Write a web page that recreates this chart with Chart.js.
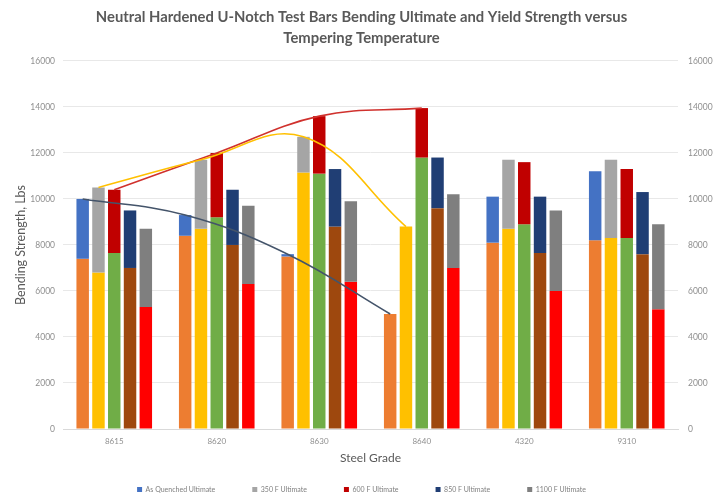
<!DOCTYPE html>
<html>
<head>
<meta charset="utf-8">
<script src="https://cdn.jsdelivr.net/npm/chart.js@4.4.1/dist/chart.umd.min.js"></script>
<style>
  html, body { margin: 0; padding: 0; background: #ffffff; }
  #wrap { width: 723px; height: 496px; }
</style>
</head>
<body>
<div id="wrap"><canvas id="c" width="723" height="496"></canvas></div>
<script>
// Steel grades along the x axis
const grades = ['8615', '8620', '8630', '8640', '4320', '9310'];

// Yield (lower segment) and ultimate (top of bar) bending strength, lbs
const yieldAQ    = [7400, 8400, 7500, 5000, 8100, 8200];
const ultAQ      = [10000, 9300, 7600, 5000, 10100, 11200];
const yield350   = [6800, 8700, 11150, 8800, 8700, 8300];
const ult350     = [10500, 11700, 12700, 8800, 11700, 11700];
const yield600   = [7650, 9200, 11100, 11800, 8900, 8300];
const ult600     = [10400, 12000, 13600, 13950, 11600, 11300];
const yield850   = [7000, 8000, 8800, 9600, 7650, 7600];
const ult850     = [9500, 10400, 11300, 11800, 10100, 10300];
const yield1100  = [5300, 6300, 6400, 7000, 6000, 5200];
const ult1100    = [8700, 9700, 9900, 10200, 9500, 8900];

// Trend curves run over the 86xx grades only
const trendCount = 4;

// Axis range
const yMax = 16000;
const yStep = 2000;

const CAT_PCT = 0.77;
const BAR_PCT = 0.79;
const SLOTS = 5;

const series = [
  { key: 'aq',   label: 'As Quenched Ultimate', y: yieldAQ,   u: ultAQ,   lo: '#ED7D31', hi: '#4472C4' },
  { key: 'f350', label: '350 F Ultimate',       y: yield350,  u: ult350,  lo: '#FFC000', hi: '#A5A5A5' },
  { key: 'f600', label: '600 F Ultimate',       y: yield600,  u: ult600,  lo: '#70AD47', hi: '#C00000' },
  { key: 'f850', label: '850 F Ultimate',       y: yield850,  u: ult850,  lo: '#9E480E', hi: '#203E74' },
  { key: 'f1100',label: '1100 F Ultimate',      y: yield1100, u: ult1100, lo: '#FF0000', hi: '#7F7F7F' }
];

const datasets = [];
series.forEach((s) => {
  // ultimate part of the bar floats from the yield value up to the ultimate value
  datasets.push({
    type: 'bar', label: s.label, stack: s.key, inLegend: true,
    data: grades.map((g, i) => ({ x: i, y: [s.y[i], s.u[i]] })),
    backgroundColor: s.hi, borderWidth: 0,
    categoryPercentage: CAT_PCT, barPercentage: BAR_PCT, order: 2
  });
  datasets.push({
    type: 'bar', label: s.label.replace('Ultimate', 'Yield'), stack: s.key, inLegend: false,
    data: grades.map((g, i) => ({ x: i, y: [0, s.y[i]] })),
    backgroundColor: s.lo, borderWidth: 0,
    categoryPercentage: CAT_PCT, barPercentage: BAR_PCT, order: 2
  });
});

// Smoothed trend curves through the ultimate values, placed over their own bar slot
function slotCenter(catIndex, slot) {
  return catIndex + (slot - (SLOTS - 1) / 2) * (CAT_PCT / SLOTS);
}
const trends = [
  { slot: 0, vals: ultAQ,  color: '#44546A' },
  { slot: 1, vals: ult350, color: '#FFC000' },
  { slot: 2, vals: ult600, color: '#D0312D' }
];
trends.forEach((t) => {
  datasets.push({
    type: 'line', label: 'trend', inLegend: false, yAxisID: 'y2',
    data: t.vals.slice(0, trendCount).map((v, i) => ({ x: slotCenter(i, t.slot), y: v })),
    borderColor: t.color, borderWidth: 1.6, pointRadius: 0,
    tension: 0.4, fill: false, order: 0
  });
});

const tickFont = { family: 'Lato', size: 8.5 };
const tickColor = '#8f8f8f';
const plainNum = (v) => String(v);

new Chart(document.getElementById('c'), {
  data: { datasets },
  options: {
    responsive: false,
    devicePixelRatio: 1,
    animation: false,
    layout: { padding: 0 },
    plugins: {
      title: {
        display: true,
        text: ['Neutral Hardened U-Notch Test Bars Bending Ultimate and Yield Strength versus', 'Tempering Temperature'],
        color: '#595959',
        font: { family: 'Lato', size: 14.8, weight: 'bold', lineHeight: 1.45 },
        padding: { top: 6, bottom: 12 }
      },
      legend: {
        position: 'bottom',
        maxHeight: 47,
        labels: {
          filter: (item, data) => data.datasets[item.datasetIndex].inLegend,
          boxWidth: 5, boxHeight: 5,
          font: { family: 'Lato', size: 7 },
          color: '#7f7f7f',
          padding: 37
        }
      },
      tooltip: { enabled: false }
    },
    scales: {
      x: {
        type: 'linear', min: -0.5, max: grades.length - 0.5, offset: false,
        afterBuildTicks: (s) => { s.ticks = grades.map((g, i) => ({ value: i })); },
        grid: { display: false, drawTicks: false },
        border: { display: true, color: '#d9d9d9' },
        ticks: {
          font: { family: 'Lato', size: 8 }, color: tickColor, padding: 8,
          autoSkip: false, maxRotation: 0,
          callback: (v) => grades[v] !== undefined ? grades[v] : ''
        },
        title: {
          display: true, text: 'Steel Grade', color: '#595959',
          font: { family: 'Lato', size: 12 }, padding: { top: 0, bottom: -16 }
        },
        afterFit: (s) => { s.height = 20; }
      },
      y: {
        type: 'linear', position: 'left', min: 0, max: yMax, stacked: false,
        ticks: { stepSize: yStep, font: tickFont, color: tickColor, padding: 8, callback: plainNum },
        grid: { color: '#e8e8e8', drawTicks: false },
        border: { display: false },
        title: {
          display: true, text: 'Bending Strength, Lbs', color: '#595959',
          font: { family: 'Lato', size: 12.5 }, padding: { top: 13, bottom: 4 }
        },
        afterFit: (s) => { s.width = 63; }
      },
      y2: {
        type: 'linear', position: 'right', min: 0, max: yMax, stacked: false,
        ticks: { stepSize: yStep, font: tickFont, color: tickColor, padding: 10, callback: plainNum },
        grid: { display: false, drawTicks: false },
        border: { display: false },
        afterFit: (s) => { s.width = 45; }
      }
    }
  }
});
</script>
</body>
</html>
